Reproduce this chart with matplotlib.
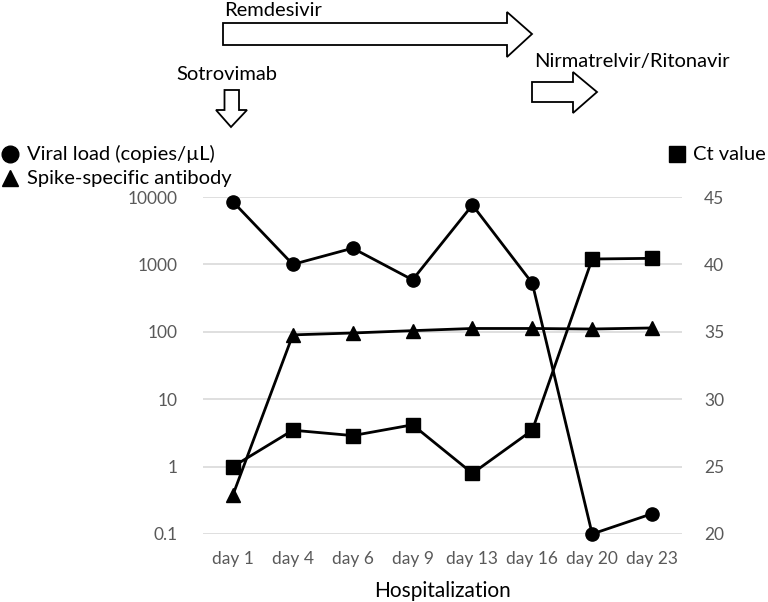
import matplotlib
matplotlib.use("Agg")
import matplotlib.pyplot as plt
from matplotlib.patches import Polygon
from matplotlib.lines import Line2D

days = ["day 1", "day 4", "day 6", "day 9", "day 13", "day 16", "day 20", "day 23"]
viral_load = [8500, 1000, 1740, 590, 7600, 525, 0.1, 0.2]
antibody = [0.38, 90, 96, 104, 112, 112, 110, 114]
ct_value = [25.0, 27.7, 27.3, 28.1, 24.5, 27.7, 40.4, 40.45]
left_ticks = [0.1, 1, 10, 100, 1000, 10000]
left_labels = ["0.1", "1", "10", "100", "1000", "10000"]
right_ticks = [20, 25, 30, 35, 40, 45]

plt.rcParams['font.family'] = ['Lato', 'DejaVu Sans']

W, H = 768, 602
fig = plt.figure(figsize=(W/100, H/100), dpi=100)
L, R, T, B = 203, 682, 197, 534
ax = fig.add_axes([L/W, 1-B/H, (R-L)/W, (B-T)/H])
ax2 = ax.twinx()

x = list(range(len(days)))
gray = "#595959"
ax.set_yscale("log")
ax.set_ylim(0.1, 10000)
ax.set_xlim(-0.5, len(days)-0.5)
ax.set_yticks(left_ticks)
ax.set_yticklabels(left_labels)
ax.yaxis.set_minor_locator(matplotlib.ticker.NullLocator())
ax.grid(axis="y", color="#d9d9d9", lw=1.2)
ax.set_axisbelow(True)
ax.set_xticks(x)
ax.set_xticklabels(days)
ax2.set_ylim(20, 45)
ax2.set_yticks(right_ticks)

for a in (ax, ax2):
    for s in a.spines.values():
        s.set_visible(False)
    a.tick_params(length=0, colors=gray, labelsize=12.5)
ax.tick_params(axis="y", pad=18)
ax.tick_params(axis="x", pad=12)
ax2.tick_params(axis="y", pad=16)

ax.plot(x, viral_load, color="black", lw=2.0, marker="o", ms=9.5, clip_on=False, zorder=3)
ax.plot(x, antibody, color="black", lw=2.0, marker="^", ms=10, clip_on=False, zorder=3)
ax2.plot(x, ct_value, color="black", lw=2.0, marker="s", ms=9.5, clip_on=False, zorder=3)

ax.set_xlabel("Hospitalization", fontsize=15, color="black", labelpad=10)

def fx(px):
    return px / W

def fy(py):
    return 1 - py / H

def arrow(pts):
    poly = Polygon([(fx(a), fy(b)) for a, b in pts], closed=True,
                   transform=fig.transFigure, facecolor="white",
                   edgecolor="black", lw=1.3)
    fig.patches.append(poly)

arrow([(223, 23), (507, 23), (507, 12), (532, 34), (507, 57), (507, 45), (223, 45)])
arrow([(224.5, 90), (239, 90), (239, 110), (247, 110), (231, 127), (216, 110), (224.5, 110)])
arrow([(532, 82), (573, 82), (573, 72), (597, 92), (573, 113), (573, 102), (532, 102)])

fs = 14.5
fig.text(fx(224), fy(11), "Remdesivir", fontsize=fs, va="center", ha="left")
fig.text(fx(176), fy(75), "Sotrovimab", fontsize=fs, va="center", ha="left")
fig.text(fx(534), fy(62), "Nirmatrelvir/Ritonavir", fontsize=fs, va="center", ha="left")

fig.add_artist(Line2D([fx(10)], [fy(154)], marker="o", ms=12, color="black", transform=fig.transFigure))
fig.text(fx(27), fy(154), "Viral load (copies/\u00b5L)", fontsize=fs, va="center", ha="left")
fig.add_artist(Line2D([fx(10)], [fy(178)], marker="^", ms=12, color="black", transform=fig.transFigure))
fig.text(fx(27), fy(178), "Spike-specific antibody", fontsize=fs, va="center", ha="left")
fig.add_artist(Line2D([fx(677)], [fy(154)], marker="s", ms=11, color="black", transform=fig.transFigure))
fig.text(fx(693), fy(154), "Ct value", fontsize=fs, va="center", ha="left")

fig.savefig("out.png", dpi=100)
